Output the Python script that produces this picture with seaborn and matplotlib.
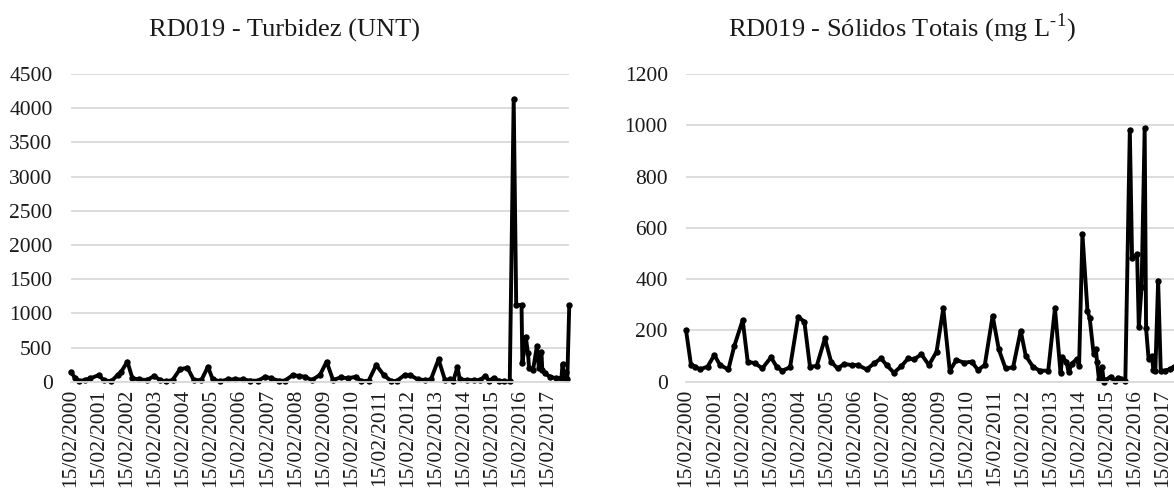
import numpy as np
import pandas as pd
import matplotlib
matplotlib.use("Agg")
import matplotlib.pyplot as plt
import matplotlib.dates as mdates
import seaborn as sns

# sampling dates (decimal years) and values
turb_years = [2000.12, 2000.29, 2000.42, 2000.62, 2000.82, 2001.12, 2001.29, 2001.56, 2001.79, 2001.92,
              2002.14, 2002.32, 2002.57, 2002.83, 2003.10, 2003.30, 2003.50, 2003.75, 2004.01, 2004.28,
              2004.51, 2004.78, 2005.01, 2005.18, 2005.45, 2005.72, 2005.98, 2006.25, 2006.52, 2006.79,
              2007.06, 2007.26, 2007.53, 2007.75, 2008.04, 2008.26, 2008.47, 2008.71, 2009.00, 2009.24,
              2009.47, 2009.74, 2010.00, 2010.28, 2010.48, 2010.74, 2011.01, 2011.28, 2011.55, 2011.75,
              2012.02, 2012.22, 2012.49, 2012.76, 2012.96, 2013.23, 2013.46, 2013.63, 2013.76, 2013.90,
              2013.99, 2014.23, 2014.50, 2014.70, 2014.90, 2015.04, 2015.20, 2015.37, 2015.57, 2015.77,
              2015.91, 2016.00, 2016.19, 2016.22, 2016.34, 2016.42, 2016.46, 2016.60, 2016.74, 2016.81,
              2016.90, 2016.93, 2017.02, 2017.20, 2017.43, 2017.61, 2017.65, 2017.70, 2017.77, 2017.82,
              2017.89]
turb_values = [146, 49, 10, 24, 49, 97, 24, 5, 97, 146,
               293, 49, 34, 24, 83, 24, 5, 24, 180, 205,
               24, 24, 219, 34, 5, 34, 34, 34, 15, 15,
               73, 49, 15, 15, 97, 83, 73, 24, 97, 293,
               24, 63, 49, 73, 5, 15, 244, 97, 5, 15,
               97, 97, 34, 24, 34, 327, 24, 34, 15, 210,
               34, 24, 24, 24, 83, 15, 58, 15, 5, 5,
               4133, 1121, 1121, 269, 658, 415, 196, 171, 522, 196,
               439, 171, 123, 73, 50, 50, 259, 50, 146, 35,
               1121]

sol_years = [2000.12, 2000.30, 2000.44, 2000.62, 2000.89, 2001.13, 2001.33, 2001.63, 2001.84, 2002.14,
             2002.32, 2002.58, 2002.84, 2003.15, 2003.35, 2003.55, 2003.83, 2004.12, 2004.34, 2004.54,
             2004.78, 2005.07, 2005.29, 2005.52, 2005.76, 2006.02, 2006.24, 2006.56, 2006.83, 2007.07,
             2007.27, 2007.53, 2007.80, 2008.04, 2008.25, 2008.51, 2008.78, 2009.05, 2009.29, 2009.52,
             2009.76, 2010.03, 2010.30, 2010.53, 2010.77, 2011.05, 2011.27, 2011.51, 2011.78, 2012.05,
             2012.23, 2012.49, 2012.73, 2013.03, 2013.27, 2013.47, 2013.53, 2013.68, 2013.76, 2013.86,
             2014.04, 2014.13, 2014.25, 2014.43, 2014.51, 2014.65, 2014.73, 2014.77, 2014.84, 2014.95,
             2015.01, 2015.07, 2015.26, 2015.40, 2015.52, 2015.64, 2015.78, 2015.94, 2016.02, 2016.20,
             2016.26, 2016.36, 2016.47, 2016.52, 2016.61, 2016.73, 2016.78, 2016.85, 2016.95, 2017.04,
             2017.18, 2017.36, 2017.50, 2017.65, 2017.89]
sol_values = [202, 65, 59, 48, 59, 104, 65, 48, 139, 240,
              78, 72, 52, 95, 59, 43, 56, 253, 234, 59,
              61, 169, 78, 52, 69, 65, 65, 48, 72, 91,
              65, 35, 61, 91, 87, 107, 65, 117, 286, 43,
              85, 74, 78, 46, 65, 257, 126, 52, 56, 199,
              101, 58, 43, 43, 286, 33, 96, 78, 36, 70,
              87, 61, 575, 277, 247, 108, 126, 78, 9, 58,
              0, 6, 20, 3, 16, 10, 3, 982, 481, 498,
              215, 370, 988, 208, 88, 101, 46, 40, 394, 43,
              43, 48, 58, 60, 62]

tick_dates = [f"{y}-02-15" for y in range(2000, 2018)]
titles = ["RD019 - Turbidez (UNT)", "RD019 - Sólidos Totais (mg L$^{\\text{-1}}$)"]
ylims = [(0, 4500, 500), (0, 1200, 200)]


def to_dates(years):
    years = np.asarray(years)
    base = pd.to_datetime([f"{int(y)}-01-01" for y in years])
    return base + pd.to_timedelta((years % 1) * 365, unit="D")


sns.set_style("white")
plt.rcParams['font.family'] = ['Liberation Serif', 'DejaVu Serif']
plt.rcParams['mathtext.fontset'] = 'custom'
plt.rcParams['mathtext.rm'] = 'Liberation Serif'
plt.rcParams['axes.unicode_minus'] = False

fig = plt.figure(figsize=(11.74, 4.88), dpi=100)
ax1 = fig.add_axes([0.0602, 0.2178, 0.4247, 0.6306])
ax2 = fig.add_axes([0.5843, 0.2178, 0.4247, 0.6306])

grid_col = '#d9d9d9'
series = [(turb_years, turb_values), (sol_years, sol_values)]
title_x = [0.2423, 0.7678]

for ax, (yrs, vals), (lo, hi, step), tx, title in zip([ax1, ax2], series, ylims, title_x, titles):
    df = pd.DataFrame({'data': to_dates(yrs), 'valor': vals})
    sns.lineplot(data=df, x='data', y='valor', ax=ax, color='black', lw=2.8,
                 marker='o', markersize=4.6, markeredgewidth=0, clip_on=False,
                 solid_joinstyle='round')
    ax.set_xlim(df['data'].min(), df['data'].max())
    ax.set_ylim(lo, hi)
    ax.set_yticks(np.arange(lo, hi + 1, step))
    ax.set_xticks(pd.to_datetime(tick_dates))
    ax.xaxis.set_major_formatter(mdates.DateFormatter('%d/%m/%Y'))
    ax.set_xlabel('')
    ax.set_ylabel('')
    ax.yaxis.grid(True, color=grid_col, lw=1.3)
    ax.set_axisbelow(True)
    for s in ['top', 'right', 'left']:
        ax.spines[s].set_visible(False)
    ax.spines['bottom'].set_color(grid_col)
    ax.spines['bottom'].set_linewidth(1.3)
    ax.tick_params(axis='x', rotation=90, length=4, width=1.3, color=grid_col,
                   pad=1, labelsize=15.5, labelcolor='#1a1a1a')
    ax.tick_params(axis='y', length=0, pad=13, labelsize=15.5, labelcolor='#1a1a1a')
    fig.text(tx, 0.926, title, ha='center', va='baseline', fontsize=19, color='#1a1a1a')

fig.savefig('out.png', dpi=100)
